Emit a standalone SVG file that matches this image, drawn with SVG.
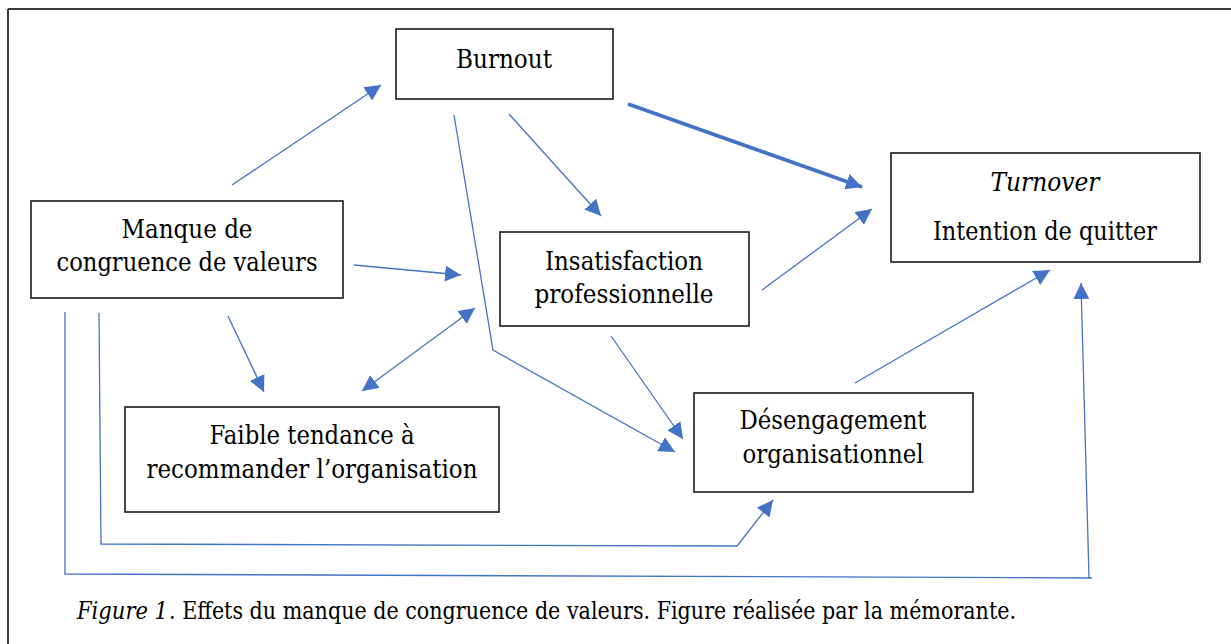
<svg xmlns="http://www.w3.org/2000/svg" width="1231" height="644" viewBox="0 0 1231 644">
  <style>
    .box { fill: #ffffff; stroke: #1a1a1a; stroke-width: 1.6; }
    .t { font-family: "DejaVu Serif", "Liberation Serif", serif; font-size: 26.5px; fill: #000; text-anchor: middle; }
    .cap { font-family: "DejaVu Serif", "Liberation Serif", serif; font-size: 23.5px; fill: #000; }
    .c { fill: none; stroke: #4472C4; stroke-width: 1.3; }
    .ca { fill: none; stroke: #4472C4; stroke-width: 1.3; marker-end: url(#ah); }
    .frame { stroke: #3a3a3a; stroke-width: 2; fill: none; }
  </style>
  <defs>
    <marker id="ah" markerUnits="userSpaceOnUse" markerWidth="16" markerHeight="16" viewBox="0 0 16 16" refX="16" refY="8" orient="auto-start-reverse">
      <path d="M0,0 L16,8 L0,16 z" fill="#4472C4"/>
    </marker>
  </defs>
  <rect width="1231" height="644" fill="#ffffff"/>
  <g id="frame">
    <line class="frame" x1="8" y1="9" x2="1231" y2="9"/>
    <line class="frame" x1="8" y1="9" x2="8" y2="644"/>
  </g>

  <g id="connectors">
    <line class="ca" x1="232" y1="185" x2="381" y2="85"/>
    <line class="ca" x1="509" y1="114" x2="601" y2="216"/>
    <line class="c" x1="628" y1="104" x2="862" y2="187" style="stroke-width:3.6; marker-end:url(#ah)"/>
    <polyline class="ca" points="454,115 493,350 675,452"/>
    <line class="ca" x1="354" y1="265" x2="461" y2="275"/>
    <line class="ca" x1="362" y1="391" x2="475" y2="308" style="marker-start:url(#ah)"/>
    <line class="ca" x1="228" y1="316" x2="264" y2="392"/>
    <line class="ca" x1="611" y1="336" x2="683" y2="439"/>
    <line class="ca" x1="762" y1="290" x2="872" y2="209"/>
    <line class="ca" x1="855" y1="383" x2="1050" y2="270"/>
    <polyline class="ca" points="99,313 101,544 737,546 773,500"/>
    <polyline class="ca" points="65,312 65,574 1092,578 1089,578 1081,283"/>
  </g>

  <g id="burnout">
    <rect class="box" x="396" y="29" width="217" height="70"/>
    <text class="t" x="504" y="68" textLength="96" lengthAdjust="spacingAndGlyphs">Burnout</text>
  </g>
  <g id="turnover">
    <rect class="box" x="891" y="153" width="309" height="109"/>
    <text class="t" x="1045" y="191" font-style="italic" textLength="109" lengthAdjust="spacingAndGlyphs">Turnover</text>
    <text class="t" x="1045" y="240" textLength="224" lengthAdjust="spacingAndGlyphs">Intention de quitter</text>
  </g>
  <g id="manque">
    <rect class="box" x="31" y="201" width="312" height="97"/>
    <text class="t" x="187" y="238" textLength="131" lengthAdjust="spacingAndGlyphs">Manque de</text>
    <text class="t" x="187" y="271" textLength="261" lengthAdjust="spacingAndGlyphs">congruence de valeurs</text>
  </g>
  <g id="insatisfaction">
    <rect class="box" x="500" y="232" width="249" height="94"/>
    <text class="t" x="624" y="270" textLength="158" lengthAdjust="spacingAndGlyphs">Insatisfaction</text>
    <text class="t" x="624" y="303" textLength="179" lengthAdjust="spacingAndGlyphs">professionnelle</text>
  </g>
  <g id="faible">
    <rect class="box" x="125" y="407" width="374" height="105"/>
    <text class="t" x="312" y="444" textLength="205" lengthAdjust="spacingAndGlyphs">Faible tendance à</text>
    <text class="t" x="312" y="478" textLength="331" lengthAdjust="spacingAndGlyphs">recommander l’organisation</text>
  </g>
  <g id="desengagement">
    <rect class="box" x="694" y="393" width="279" height="99"/>
    <text class="t" x="833" y="429" textLength="187" lengthAdjust="spacingAndGlyphs">Désengagement</text>
    <text class="t" x="833" y="463" textLength="181" lengthAdjust="spacingAndGlyphs">organisationnel</text>
  </g>

  <g id="caption">
    <text class="cap" x="77" y="619" font-style="italic" textLength="91" lengthAdjust="spacingAndGlyphs">Figure 1</text>
    <text class="cap" x="169" y="619" textLength="847" lengthAdjust="spacingAndGlyphs">. Effets du manque de congruence de valeurs. Figure réalisée par la mémorante.</text>
  </g>
</svg>
